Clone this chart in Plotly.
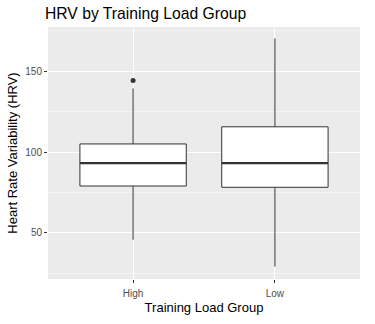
import plotly.graph_objects as go

# Data
groups = ["High", "Low"]
q1 = [79.0, 78.2]
median = [93.2, 93.2]
q3 = [105.0, 115.6]
lower_whisker = [45.8, 29.2]
upper_whisker = [139.3, 170.2]
outlier_group = ["High"]
outlier_value = [144.3]

FONT = "Liberation Sans, Arial, sans-serif"
BOX_W = 0.75

fig = go.Figure()
fig.add_trace(go.Box(
    x=groups, q1=q1, median=median, q3=q3,
    lowerfence=lower_whisker, upperfence=upper_whisker,
    width=BOX_W,
    fillcolor="white", line=dict(color="#333333", width=1),
    whiskerwidth=0, boxpoints=False, showlegend=False, hoverinfo="skip",
))
fig.add_trace(go.Scatter(
    x=outlier_group, y=outlier_value, mode="markers",
    marker=dict(color="#333333", size=5), showlegend=False,
))
# thicker median lines like ggplot
for i, m in enumerate(median):
    fig.add_shape(type="line", xref="x", yref="y", x0=i - BOX_W / 2, x1=i + BOX_W / 2,
                  y0=m, y1=m, line=dict(color="#333333", width=2.2), layer="above")

fig.update_layout(
    width=375, height=324,
    margin=dict(l=45, r=15, t=27, b=40),
    paper_bgcolor="white", plot_bgcolor="#EBEBEB",
    font=dict(family=FONT, color="#000000"),
    title=dict(text="HRV by Training Load Group", font=dict(size=15.7, color="#000000"),
               x=45 / 375, xanchor="left", xref="container",
               y=1 - 14 / 324, yanchor="middle", yref="container"),
    boxgap=0, boxgroupgap=0,
)
fig.update_xaxes(
    type="category", range=[-0.6, 1.6],
    showgrid=True, gridcolor="white", gridwidth=1.1,
    ticks="outside", ticklen=3, tickcolor="#333333", tickwidth=1,
    ticklabelstandoff=2,
    tickfont=dict(size=10, color="#4D4D4D", family=FONT),
    title=dict(text="Training Load Group", font=dict(size=13, color="#000000"), standoff=4),
    zeroline=False, showline=False,
)
fig.update_yaxes(
    range=[21.5, 177.3], tickvals=[50, 100, 150],
    showgrid=True, gridcolor="white", gridwidth=1.1,
    minor=dict(tickvals=[25, 75, 125, 175], showgrid=True, gridcolor="#F5F5F5", gridwidth=0.6, ticks=""),
    ticks="outside", ticklen=3, tickcolor="#333333", tickwidth=1,
    tickfont=dict(size=10, color="#4D4D4D", family=FONT),
    title=dict(text="Heart Rate Variability (HRV)", font=dict(size=13, color="#000000"), standoff=4),
    zeroline=False, showline=False,
)

fig.write_html("out.html")
